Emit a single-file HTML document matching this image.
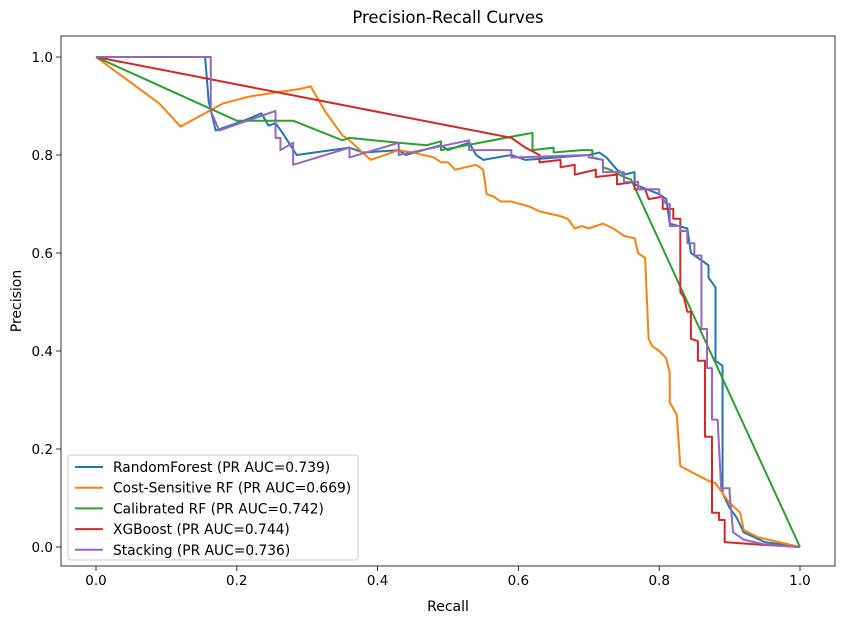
<!DOCTYPE html>
<html><head><meta charset="utf-8"><style>body{margin:0;background:#fff}svg text{font-family:"DejaVu Sans",sans-serif}</style></head>
<body>
<svg id="chart" width="846" height="624" xmlns="http://www.w3.org/2000/svg"></svg>
<script>
const xTicks=[0,0.2,0.4,0.6,0.8,1.0];
const yTicks=[0,0.2,0.4,0.6,0.8,1.0];
const seriesNames=["RandomForest (PR AUC=0.739)","Cost-Sensitive RF (PR AUC=0.669)","Calibrated RF (PR AUC=0.742)","XGBoost (PR AUC=0.744)","Stacking (PR AUC=0.736)"];
const colors=["#1f77b4","#ff7f0e","#2ca02c","#d62728","#9467bd"];
const rfData=[[0,1],[0.155,1],[0.16,0.91],[0.17,0.85],[0.21,0.87],[0.235,0.885],[0.245,0.86],[0.255,0.865],[0.265,0.845],[0.285,0.8],[0.36,0.815],[0.38,0.805],[0.43,0.81],[0.44,0.8],[0.49,0.82],[0.5,0.81],[0.53,0.825],[0.54,0.8],[0.55,0.79],[0.59,0.8],[0.61,0.79],[0.7,0.8],[0.715,0.805],[0.725,0.795],[0.74,0.77],[0.75,0.76],[0.765,0.765],[0.765,0.74],[0.8,0.72],[0.81,0.71],[0.815,0.66],[0.84,0.65],[0.845,0.6],[0.86,0.585],[0.87,0.575],[0.87,0.55],[0.88,0.53],[0.88,0.38],[0.89,0.37],[0.89,0.11],[0.9,0.08],[0.91,0.06],[0.92,0.03],[0.95,0.01],[1,0]];
const csData=[[0,1],[0.09,0.905],[0.12,0.858],[0.18,0.905],[0.22,0.92],[0.29,0.935],[0.305,0.94],[0.325,0.89],[0.35,0.84],[0.36,0.83],[0.39,0.79],[0.43,0.81],[0.45,0.805],[0.48,0.795],[0.49,0.785],[0.5,0.785],[0.51,0.77],[0.54,0.78],[0.55,0.77],[0.555,0.72],[0.565,0.715],[0.575,0.705],[0.59,0.705],[0.615,0.695],[0.63,0.685],[0.66,0.675],[0.67,0.67],[0.68,0.65],[0.69,0.655],[0.7,0.65],[0.72,0.66],[0.735,0.65],[0.745,0.64],[0.75,0.635],[0.765,0.63],[0.77,0.6],[0.78,0.59],[0.785,0.425],[0.79,0.41],[0.8,0.4],[0.81,0.385],[0.815,0.355],[0.815,0.295],[0.825,0.27],[0.83,0.165],[0.85,0.15],[0.87,0.135],[0.88,0.13],[0.9,0.09],[0.915,0.07],[0.92,0.035],[0.94,0.02],[1,0]];
const calData=[[0,1],[0.2,0.87],[0.28,0.87],[0.35,0.83],[0.36,0.835],[0.43,0.825],[0.47,0.82],[0.49,0.828],[0.49,0.81],[0.6,0.84],[0.62,0.845],[0.62,0.81],[0.65,0.815],[0.65,0.805],[0.69,0.81],[0.705,0.81],[0.705,0.795],[0.72,0.79],[0.72,0.775],[0.73,0.77],[0.75,0.755],[0.76,0.75],[1,0]];
const xgbData=[[0,1],[0.59,0.835],[0.61,0.815],[0.63,0.8],[0.63,0.785],[0.66,0.79],[0.66,0.775],[0.68,0.78],[0.68,0.76],[0.71,0.77],[0.71,0.755],[0.74,0.76],[0.74,0.74],[0.765,0.745],[0.765,0.73],[0.78,0.73],[0.785,0.71],[0.805,0.715],[0.805,0.69],[0.82,0.69],[0.82,0.67],[0.83,0.67],[0.83,0.52],[0.835,0.51],[0.84,0.48],[0.845,0.48],[0.845,0.425],[0.855,0.42],[0.855,0.38],[0.865,0.38],[0.865,0.225],[0.875,0.225],[0.875,0.07],[0.885,0.07],[0.885,0.055],[0.893,0.055],[0.893,0.01],[0.94,0.005],[1,0]];
const stData=[[0,1],[0.163,1],[0.163,0.89],[0.175,0.85],[0.255,0.89],[0.255,0.835],[0.262,0.835],[0.262,0.81],[0.28,0.825],[0.28,0.78],[0.36,0.815],[0.36,0.795],[0.43,0.825],[0.43,0.8],[0.53,0.83],[0.53,0.81],[0.59,0.81],[0.59,0.795],[0.7,0.8],[0.7,0.795],[0.72,0.79],[0.72,0.765],[0.75,0.765],[0.75,0.745],[0.77,0.745],[0.77,0.73],[0.8,0.73],[0.8,0.72],[0.81,0.7],[0.815,0.7],[0.815,0.655],[0.83,0.655],[0.83,0.645],[0.84,0.645],[0.84,0.62],[0.85,0.62],[0.85,0.595],[0.86,0.595],[0.86,0.445],[0.868,0.445],[0.868,0.365],[0.875,0.365],[0.875,0.26],[0.883,0.26],[0.888,0.12],[0.9,0.12],[0.9,0.11],[0.905,0.03],[0.92,0.015],[0.95,0.005],[1,0]];
const allSeries=[rfData,csData,calData,xgbData,stData];
const seriesKeys=["randomforest","cost-sensitive-rf","calibrated-rf","xgboost","stacking"];

const NS="http://www.w3.org/2000/svg";
const svg=document.getElementById('chart');
const L=61,R=835,T=36,B=566;
const sx=v=>96+v*704, sy=v=>547-v*490;
function mk(tag,attrs,parent){const e=document.createElementNS(NS,tag);for(const k in attrs)e.setAttribute(k,attrs[k]);(parent||svg).appendChild(e);return e;}

const title=mk('text',{x:(L+R)/2,y:23,'text-anchor':'middle','font-size':16.5,fill:'#000'});


title.textContent='Precision-Recall Curves';

xTicks.forEach(t=>{
  const g=mk('g',{});
  
  
  mk('line',{x1:sx(t),x2:sx(t),y1:B,y2:B+5,stroke:'#000','stroke-width':0.8},g);
  const tx=mk('text',{x:sx(t),y:B+19,'text-anchor':'middle','font-size':13.5,fill:'#000'},g);
  tx.textContent=t.toFixed(1);
});
yTicks.forEach(t=>{
  const g=mk('g',{});
  
  
  mk('line',{x1:L-5,x2:L,y1:sy(t),y2:sy(t),stroke:'#000','stroke-width':0.8},g);
  const tx=mk('text',{x:L-8,y:sy(t)+5,'text-anchor':'end','font-size':13.5,fill:'#000'},g);
  tx.textContent=t.toFixed(1);
});
const xl=mk('text',{x:(L+R)/2,y:611,'text-anchor':'middle','font-size':14,fill:'#000'});


xl.textContent='Recall';
const yl=mk('text',{x:21,y:(T+B)/2,'text-anchor':'middle','font-size':14,fill:'#000',transform:`rotate(-90 21 ${(T+B)/2})`});


yl.textContent='Precision';

allSeries.forEach((d,i)=>{
  const p=mk('polyline',{points:d.map(q=>sx(q[0])+','+sy(q[1])).join(' '),fill:'none',stroke:colors[i],'stroke-width':2,'stroke-linejoin':'round'});
  
  
});

const frame=mk('rect',{x:L,y:T,width:R-L,height:B-T,fill:'none',stroke:'#000','stroke-width':0.8});



const lg=mk('g',{});


mk('rect',{x:68,y:455,width:290,height:105,rx:3,fill:'#fff','fill-opacity':0.8,stroke:'#ccc','stroke-width':1},lg);
seriesNames.forEach((n,i)=>{
  const g=mk('g',{},lg);
  
  
  const y=467+i*20.7;
  mk('line',{x1:75,x2:103,y1:y,y2:y,stroke:colors[i],'stroke-width':2},g);
  const t=mk('text',{x:113,y:y+5,'font-size':13.8,fill:'#000'},g);
  t.textContent=n;
});
</script>
</body></html>
